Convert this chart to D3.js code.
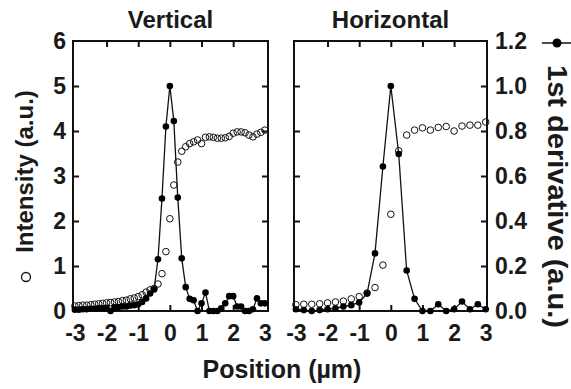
<!DOCTYPE html>
<html>
<head>
<meta charset="utf-8">
<script src="https://cdn.jsdelivr.net/npm/d3@7"></script>
<style>
  body { margin: 0; background: #fff; }
  svg { display: block; font-family: "Liberation Sans", Arial, sans-serif; }
</style>
</head>
<body>
<div id="chart"></div>
<script>
// Vertical panel: position (um), intensity (a.u.) and 1st derivative (a.u.)
const vertPos = [-3, -2.875, -2.75, -2.625, -2.5, -2.375, -2.25, -2.125, -2, -1.875, -1.75, -1.625, -1.5, -1.375, -1.25, -1.125,
  -1, -0.875, -0.75, -0.625, -0.5, -0.375, -0.25, -0.125, 0, 0.125, 0.25, 0.375, 0.5, 0.625, 0.75, 0.875,
  1, 1.125, 1.25, 1.375, 1.5, 1.625, 1.75, 1.875, 2, 2.125, 2.25, 2.375, 2.5, 2.625, 2.75, 2.875, 3];
const vertIntensity = [0.11, 0.12, 0.13, 0.13, 0.14, 0.15, 0.16, 0.17, 0.18, 0.19, 0.2, 0.21, 0.23, 0.24, 0.27, 0.29,
  0.32, 0.36, 0.42, 0.47, 0.5, 0.6, 0.83, 1.32, 2.05, 2.8, 3.31, 3.55, 3.65, 3.72, 3.76, 3.8,
  3.72, 3.86, 3.87, 3.86, 3.84, 3.84, 3.85, 3.88, 3.95, 3.98, 3.98, 3.96, 3.91, 3.87, 3.93, 3.97, 4.02];
const vertDeriv = [0.006, 0.006, 0.008, 0.008, 0.01, 0.01, 0.012, 0.012, 0.014, 0, 0.016, 0.018, 0.02, 0.02, 0.024, 0.026,
  0.03, 0.04, 0.056, 0.078, 0.096, 0.23, 0.5, 0.82, 1.0, 0.844, 0.504, 0.234, 0.106, 0.054, 0.048, 0,
  0.034, 0.082, 0, 0, 0, 0.012, 0.034, 0.066, 0.066, 0.02, 0.02, 0, 0, 0.008, 0.056, 0.034, 0.034];

// Horizontal panel
const horPos = [-3, -2.75, -2.5, -2.25, -2, -1.75, -1.5, -1.25, -1, -0.75, -0.5, -0.25, 0,
  0.25, 0.5, 0.75, 1, 1.25, 1.5, 1.75, 2, 2.25, 2.5, 2.75, 3];
const horIntensity = [0.14, 0.15, 0.15, 0.16, 0.18, 0.2, 0.22, 0.27, 0.32, 0.4, 0.52, 1.02, 2.15,
  3.56, 3.91, 4.02, 4.07, 4.02, 4.08, 4.1, 4.0, 4.11, 4.13, 4.13, 4.2];
const horDeriv = [0.008, 0.004, 0, 0.004, 0.008, 0.012, 0.02, 0.026, 0.038, 0.078, 0.256, 0.642, 1.0,
  0.698, 0.18, 0.054, 0, 0, 0.03, 0, 0.008, 0.042, 0.008, 0.03, 0.008];

const titles = ["Vertical", "Horizontal"];
const xTicks = [-3, -2, -1, 0, 1, 2, 3];
const intensityTicks = [0, 1, 2, 3, 4, 5, 6];
const derivTicks = [0, 0.2, 0.4, 0.6, 0.8, 1.0, 1.2];

const width = 571, height = 389;
const plotTop = 41, plotBottom = 311;

const svg = d3.select("#chart").append("svg")
  .attr("width", width)
  .attr("height", height);

const yInt = d3.scaleLinear().domain([0, 6]).range([plotBottom, plotTop]);
const yDer = d3.scaleLinear().domain([0, 1.2]).range([plotBottom, plotTop]);

const panels = [
  { title: titles[0], pos: vertPos, inten: vertIntensity, deriv: vertDeriv, x0: 73, x1: 268, dom: [-3.06, 3.1] },
  { title: titles[1], pos: horPos, inten: horIntensity, deriv: horDeriv, x0: 294, x1: 487, dom: [-3.06, 3.04] }
];

panels.forEach((p, k) => {
  const x = d3.scaleLinear().domain(p.dom).range([p.x0, p.x1]);
  const g = svg.append("g");

  // inward ticks on all four sides
  const inner = xTicks.filter(d => d > -3 && d < 3);
  g.append("g")
    .attr("transform", `translate(0,${plotBottom})`)
    .call(d3.axisBottom(x).tickValues(inner).tickSizeInner(-6).tickSizeOuter(0).tickFormat(""))
    .call(a => a.select(".domain").remove());
  g.append("g")
    .attr("transform", `translate(0,${plotTop})`)
    .call(d3.axisTop(x).tickValues(inner).tickSizeInner(-6).tickSizeOuter(0).tickFormat(""))
    .call(a => a.select(".domain").remove());
  g.append("g")
    .attr("transform", `translate(${p.x0},0)`)
    .call(d3.axisLeft(yInt).tickValues([1, 2, 3, 4, 5]).tickSizeInner(-6).tickSizeOuter(0).tickFormat(""))
    .call(a => a.select(".domain").remove());
  g.append("g")
    .attr("transform", `translate(${p.x1},0)`)
    .call(d3.axisRight(yInt).tickValues([1, 2, 3, 4, 5]).tickSizeInner(-6).tickSizeOuter(0).tickFormat(""))
    .call(a => a.select(".domain").remove());
  g.selectAll(".tick line").attr("stroke", "#111").attr("stroke-width", 2);

  // bottom labels
  g.append("g")
    .attr("transform", `translate(0,${plotBottom})`)
    .call(d3.axisBottom(x).tickValues(xTicks).tickSize(0).tickPadding(14).tickFormat(d => String(d)))
    .call(a => a.select(".domain").remove())
    .selectAll("text")
    .attr("font-size", 23).attr("font-weight", "bold").attr("fill", "#1a1a1a")
    .attr("font-family", "'Liberation Sans', Arial, sans-serif");

  g.append("rect")
    .attr("x", p.x0).attr("y", plotTop)
    .attr("width", p.x1 - p.x0).attr("height", plotBottom - plotTop)
    .attr("fill", "none").attr("stroke", "#111").attr("stroke-width", 2);

  g.append("text")
    .attr("x", (p.x0 + p.x1) / 2).attr("y", 28)
    .attr("text-anchor", "middle")
    .attr("font-size", 24).attr("font-weight", "bold").attr("fill", "#1a1a1a")
    .text(p.title);

  // intensity (open circles)
  g.append("g").selectAll("circle")
    .data(p.pos)
    .join("circle")
    .attr("cx", d => x(d))
    .attr("cy", (d, i) => yInt(p.inten[i]))
    .attr("r", 3.3)
    .attr("fill", "none")
    .attr("stroke", "#111")
    .attr("stroke-width", 1);

  // derivative (line + filled circles)
  const line = d3.line()
    .x((d, i) => x(p.pos[i]))
    .y(d => yDer(d));
  g.append("path")
    .datum(p.deriv)
    .attr("d", line)
    .attr("fill", "none")
    .attr("stroke", "#111")
    .attr("stroke-width", 1.3);
  g.append("g").selectAll("circle")
    .data(p.deriv)
    .join("circle")
    .attr("cx", (d, i) => x(p.pos[i]))
    .attr("cy", d => yDer(d))
    .attr("r", 3.3)
    .attr("fill", "#000");
});

// left axis labels
svg.append("g")
  .attr("transform", `translate(${panels[0].x0},0)`)
  .call(d3.axisLeft(yInt).tickValues(intensityTicks).tickSize(0).tickPadding(7).tickFormat(d3.format("d")))
  .call(a => a.select(".domain").remove())
  .selectAll("text")
  .attr("font-size", 23).attr("font-weight", "bold").attr("fill", "#1a1a1a")
  .attr("font-family", "'Liberation Sans', Arial, sans-serif");

// right axis labels
svg.append("g")
  .attr("transform", `translate(${panels[1].x1},0)`)
  .call(d3.axisRight(yDer).tickValues(derivTicks).tickSize(0).tickPadding(8).tickFormat(d3.format(".1f")))
  .call(a => a.select(".domain").remove())
  .selectAll("text")
  .attr("font-size", 23).attr("font-weight", "bold").attr("fill", "#1a1a1a")
  .attr("font-family", "'Liberation Sans', Arial, sans-serif");

// x axis title
svg.append("text")
  .attr("x", 282).attr("y", 378)
  .attr("text-anchor", "middle")
  .attr("font-size", 25).attr("font-weight", "bold").attr("fill", "#1a1a1a")
  .text("Position (\u00b5m)");

// left y title with open-circle symbol
svg.append("circle")
  .attr("cx", 26).attr("cy", 277).attr("r", 4.5)
  .attr("fill", "none").attr("stroke", "#111").attr("stroke-width", 1.3);
svg.append("text")
  .attr("transform", "translate(33,171.5) rotate(-90)")
  .attr("text-anchor", "middle")
  .attr("font-size", 24).attr("font-weight", "bold").attr("fill", "#1a1a1a")
  .text("Intensity (a.u.)");

// right y title with line+dot symbol
svg.append("line")
  .attr("x1", 542).attr("x2", 571).attr("y1", 43).attr("y2", 43)
  .attr("stroke", "#111").attr("stroke-width", 1.5);
svg.append("circle")
  .attr("cx", 557).attr("cy", 43).attr("r", 4.5).attr("fill", "#000");
svg.append("text")
  .attr("transform", "translate(548,65) rotate(90)")
  .attr("text-anchor", "start")
  .attr("font-size", 27).attr("font-weight", "bold").attr("fill", "#1a1a1a")
  .attr("textLength", 263).attr("lengthAdjust", "spacingAndGlyphs")
  .text("1st derivative (a.u.)");
</script>
</body>
</html>
